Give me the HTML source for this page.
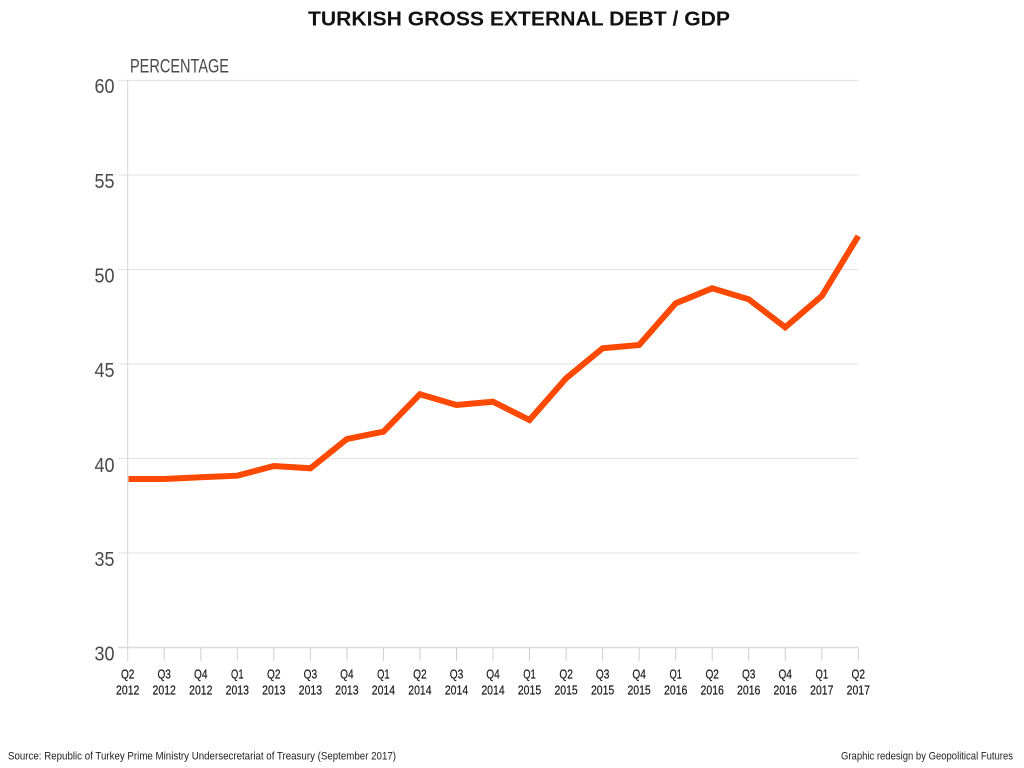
<!DOCTYPE html>
<html><head><meta charset="utf-8"><style>
html,body{margin:0;padding:0;background:#fff;}
svg{display:block;}
text{font-family:"Liberation Sans",sans-serif;}
</style></head><body>
<svg width="1024" height="768" viewBox="0 0 1024 768" xmlns="http://www.w3.org/2000/svg">
<rect width="1024" height="768" fill="#fff"/>
<text x="308" y="25.5" font-size="20.5" font-weight="bold" fill="#111" textLength="422" lengthAdjust="spacingAndGlyphs">TURKISH GROSS EXTERNAL DEBT / GDP</text>
<text x="130" y="72.7" font-size="19" fill="#4a4a4a" textLength="99" lengthAdjust="spacingAndGlyphs">PERCENTAGE</text>
<g stroke="#e6e6e6" stroke-width="1.2">
<line x1="118" y1="80.5" x2="858.5" y2="80.5"/>
<line x1="118" y1="175" x2="858.5" y2="175"/>
<line x1="118" y1="269.5" x2="858.5" y2="269.5"/>
<line x1="118" y1="364" x2="858.5" y2="364"/>
<line x1="118" y1="458.5" x2="858.5" y2="458.5"/>
<line x1="118" y1="553" x2="858.5" y2="553"/>
</g>
<line x1="118" y1="647.5" x2="858.5" y2="647.5" stroke="#dcdcdc" stroke-width="1.6"/>
<line x1="127.7" y1="80" x2="127.7" y2="661" stroke="#d4d4d4" stroke-width="1"/>
<g fill="#484848" font-size="20" text-anchor="end">
<text x="114.5" y="93" textLength="20" lengthAdjust="spacingAndGlyphs">60</text>
<text x="114.5" y="188" textLength="20" lengthAdjust="spacingAndGlyphs">55</text>
<text x="114.5" y="282.5" textLength="20" lengthAdjust="spacingAndGlyphs">50</text>
<text x="114.5" y="377" textLength="20" lengthAdjust="spacingAndGlyphs">45</text>
<text x="114.5" y="472" textLength="20" lengthAdjust="spacingAndGlyphs">40</text>
<text x="114.5" y="566" textLength="20" lengthAdjust="spacingAndGlyphs">35</text>
<text x="114.5" y="660.5" textLength="20" lengthAdjust="spacingAndGlyphs">30</text>
</g>
<g stroke="#d0d0d0" stroke-width="1">
<line x1="164.2" y1="647" x2="164.2" y2="661"/>
<line x1="200.8" y1="647" x2="200.8" y2="661"/>
<line x1="237.3" y1="647" x2="237.3" y2="661"/>
<line x1="273.8" y1="647" x2="273.8" y2="661"/>
<line x1="310.4" y1="647" x2="310.4" y2="661"/>
<line x1="346.9" y1="647" x2="346.9" y2="661"/>
<line x1="383.4" y1="647" x2="383.4" y2="661"/>
<line x1="419.9" y1="647" x2="419.9" y2="661"/>
<line x1="456.5" y1="647" x2="456.5" y2="661"/>
<line x1="493.0" y1="647" x2="493.0" y2="661"/>
<line x1="529.5" y1="647" x2="529.5" y2="661"/>
<line x1="566.1" y1="647" x2="566.1" y2="661"/>
<line x1="602.6" y1="647" x2="602.6" y2="661"/>
<line x1="639.1" y1="647" x2="639.1" y2="661"/>
<line x1="675.7" y1="647" x2="675.7" y2="661"/>
<line x1="712.2" y1="647" x2="712.2" y2="661"/>
<line x1="748.7" y1="647" x2="748.7" y2="661"/>
<line x1="785.2" y1="647" x2="785.2" y2="661"/>
<line x1="821.8" y1="647" x2="821.8" y2="661"/>
<line x1="858.3" y1="647" x2="858.3" y2="661"/>
</g>
<g fill="#1a1a1a" font-size="12.5" text-anchor="middle" stroke="#1a1a1a" stroke-width="0.2">
<text x="127.7" y="678.5" textLength="13.5" lengthAdjust="spacingAndGlyphs">Q2</text><text x="127.7" y="694.5" textLength="23.3" lengthAdjust="spacingAndGlyphs">2012</text>
<text x="164.2" y="678.5" textLength="13.5" lengthAdjust="spacingAndGlyphs">Q3</text><text x="164.2" y="694.5" textLength="23.3" lengthAdjust="spacingAndGlyphs">2012</text>
<text x="200.8" y="678.5" textLength="13.5" lengthAdjust="spacingAndGlyphs">Q4</text><text x="200.8" y="694.5" textLength="23.3" lengthAdjust="spacingAndGlyphs">2012</text>
<text x="237.3" y="678.5" textLength="12.5" lengthAdjust="spacingAndGlyphs">Q1</text><text x="237.3" y="694.5" textLength="23.3" lengthAdjust="spacingAndGlyphs">2013</text>
<text x="273.8" y="678.5" textLength="13.5" lengthAdjust="spacingAndGlyphs">Q2</text><text x="273.8" y="694.5" textLength="23.3" lengthAdjust="spacingAndGlyphs">2013</text>
<text x="310.4" y="678.5" textLength="13.5" lengthAdjust="spacingAndGlyphs">Q3</text><text x="310.4" y="694.5" textLength="23.3" lengthAdjust="spacingAndGlyphs">2013</text>
<text x="346.9" y="678.5" textLength="13.5" lengthAdjust="spacingAndGlyphs">Q4</text><text x="346.9" y="694.5" textLength="23.3" lengthAdjust="spacingAndGlyphs">2013</text>
<text x="383.4" y="678.5" textLength="12.5" lengthAdjust="spacingAndGlyphs">Q1</text><text x="383.4" y="694.5" textLength="23.3" lengthAdjust="spacingAndGlyphs">2014</text>
<text x="419.9" y="678.5" textLength="13.5" lengthAdjust="spacingAndGlyphs">Q2</text><text x="419.9" y="694.5" textLength="23.3" lengthAdjust="spacingAndGlyphs">2014</text>
<text x="456.5" y="678.5" textLength="13.5" lengthAdjust="spacingAndGlyphs">Q3</text><text x="456.5" y="694.5" textLength="23.3" lengthAdjust="spacingAndGlyphs">2014</text>
<text x="493.0" y="678.5" textLength="13.5" lengthAdjust="spacingAndGlyphs">Q4</text><text x="493.0" y="694.5" textLength="23.3" lengthAdjust="spacingAndGlyphs">2014</text>
<text x="529.5" y="678.5" textLength="12.5" lengthAdjust="spacingAndGlyphs">Q1</text><text x="529.5" y="694.5" textLength="23.3" lengthAdjust="spacingAndGlyphs">2015</text>
<text x="566.1" y="678.5" textLength="13.5" lengthAdjust="spacingAndGlyphs">Q2</text><text x="566.1" y="694.5" textLength="23.3" lengthAdjust="spacingAndGlyphs">2015</text>
<text x="602.6" y="678.5" textLength="13.5" lengthAdjust="spacingAndGlyphs">Q3</text><text x="602.6" y="694.5" textLength="23.3" lengthAdjust="spacingAndGlyphs">2015</text>
<text x="639.1" y="678.5" textLength="13.5" lengthAdjust="spacingAndGlyphs">Q4</text><text x="639.1" y="694.5" textLength="23.3" lengthAdjust="spacingAndGlyphs">2015</text>
<text x="675.7" y="678.5" textLength="12.5" lengthAdjust="spacingAndGlyphs">Q1</text><text x="675.7" y="694.5" textLength="23.3" lengthAdjust="spacingAndGlyphs">2016</text>
<text x="712.2" y="678.5" textLength="13.5" lengthAdjust="spacingAndGlyphs">Q2</text><text x="712.2" y="694.5" textLength="23.3" lengthAdjust="spacingAndGlyphs">2016</text>
<text x="748.7" y="678.5" textLength="13.5" lengthAdjust="spacingAndGlyphs">Q3</text><text x="748.7" y="694.5" textLength="23.3" lengthAdjust="spacingAndGlyphs">2016</text>
<text x="785.2" y="678.5" textLength="13.5" lengthAdjust="spacingAndGlyphs">Q4</text><text x="785.2" y="694.5" textLength="23.3" lengthAdjust="spacingAndGlyphs">2016</text>
<text x="821.8" y="678.5" textLength="12.5" lengthAdjust="spacingAndGlyphs">Q1</text><text x="821.8" y="694.5" textLength="23.3" lengthAdjust="spacingAndGlyphs">2017</text>
<text x="858.3" y="678.5" textLength="13.5" lengthAdjust="spacingAndGlyphs">Q2</text><text x="858.3" y="694.5" textLength="23.3" lengthAdjust="spacingAndGlyphs">2017</text>
</g>
<polyline fill="none" stroke="#ff4800" stroke-width="6" stroke-linejoin="miter" stroke-linecap="butt"
points="128.5,479 164.2,479 200.8,477.3 237.3,475.7 273.8,466 310.4,468.3 346.9,439 383.4,431.7 419.9,394.3 456.5,405 493.0,401.7 529.5,420 566.1,378.3 602.6,348.3 639.1,345 675.7,303.3 712.2,288.3 748.7,299.3 785.2,327.3 821.8,296 858.3,236"/>
<text x="8" y="759.5" font-size="11" fill="#222" textLength="388" lengthAdjust="spacingAndGlyphs">Source: Republic of Turkey Prime Ministry Undersecretariat of Treasury (September 2017)</text>
<text x="1013" y="759.5" font-size="11" fill="#222" text-anchor="end" textLength="172" lengthAdjust="spacingAndGlyphs">Graphic redesign by Geopolitical Futures</text>
</svg>
</body></html>
